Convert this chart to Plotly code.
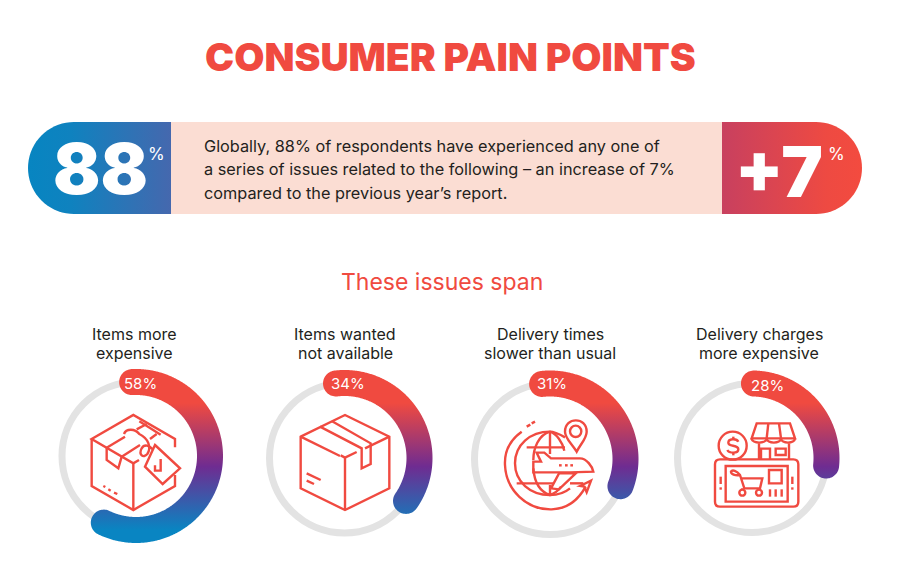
import math
import re
import plotly.graph_objects as go

# values
title = "CONSUMER PAIN POINTS"
subtitle = "These issues span"
stat_left = "88"
stat_right = "+7"
blurb = [
    "Globally, 88% of respondents have experienced any one of",
    "a series of issues related to the following – an increase of 7%",
    "compared to the previous year’s report.",
]
issues = [
    ["Items more", "expensive"],
    ["Items wanted", "not available"],
    ["Delivery times", "slower than usual"],
    ["Delivery charges", "more expensive"],
]
shares = [58, 34, 31, 28]

RED = "#f04a40"
FONT = "Inter"

# ring layout, pixels of the 900x580 page
ring_cx = [136, 344.5, 550, 752]
ring_cy = [456, 458, 459, 458]
ring_r = [74, 75, 75.5, 74.5]
ring_start = [-3, -6.5, -6, 1.5]
ring_trim = [-3, 2.5, -0.5, -5]
label_x = [134, 345, 550, 759]
pct_x = [140, 348, 552, 767]
icon_origin = [(40, 360), (250, 360), (455, 360), (655, 360)]
ARC_W = 26
PAGE_MARGIN = 8  # the page body keeps its default margin


def point(cx, cy, r, deg):
    a = math.radians(deg)
    return cx + r * math.sin(a), cy - r * math.cos(a)


def arc_outline(cx, cy, r, w, a0, a1):
    pts = []
    n = int(a1 - a0) * 2
    for i in range(n + 1):
        pts.append(point(cx, cy, r + w / 2, a0 + (a1 - a0) * i / n))
    ex, ey = point(cx, cy, r, a1)
    for i in range(37):
        pts.append(point(ex, ey, w / 2, a1 + i * 5))
    for i in range(n + 1):
        pts.append(point(cx, cy, r - w / 2, a1 - (a1 - a0) * i / n))
    sx, sy = point(cx, cy, r, a0)
    for i in range(37):
        pts.append(point(sx, sy, w / 2, a0 + 180 + i * 5))
    pts.append(pts[0])
    return [p[0] for p in pts], [p[1] for p in pts]


def pill_end(x_flat, side, top=122, bottom=214):
    # one rounded end of the band, side -1 is left
    r = (bottom - top) / 2
    cy = (top + bottom) / 2
    xs, ys = [], []
    for i in range(37):
        a = math.radians(i * 5)
        xs.append(x_flat + side * r * math.sin(a))
        ys.append(cy - r * math.cos(a))
    return xs, ys


fig = go.Figure()

# band
lx, ly = pill_end(74, -1)
fig.add_trace(go.Scatter(
    x=[171, 171] + lx[::-1] + [171],
    y=[214, 214] + ly[::-1] + [122],
    fill="toself", mode="none", hoverinfo="skip",
    fillgradient=dict(type="horizontal", start=28, stop=171,
                      colorscale=[[0, "#0785c1"], [0.3, "#0f82bf"], [1, "#4568ae"]]),
))
rx, ry = pill_end(816, 1)
fig.add_trace(go.Scatter(
    x=[722] + rx + [722, 722],
    y=[122] + ry + [214, 122],
    fill="toself", mode="none", hoverinfo="skip",
    fillgradient=dict(type="horizontal", start=722, stop=862,
                      colorscale=[[0, "#c8405f"], [0.75, "#ee4a42"], [1, "#f34b3f"]]),
))

shapes = [dict(type="rect", x0=171, x1=722, y0=122, y1=214,
               fillcolor="#fbddd3", line_width=0, layer="below")]

# arcs, the gradient runs down the page
for i, share in enumerate(shares):
    cx, cy, r = ring_cx[i], ring_cy[i], ring_r[i]
    shapes.append(dict(type="circle", x0=cx - r, x1=cx + r, y0=cy - r, y1=cy + r,
                       line=dict(color="#e3e3e3", width=7), layer="below"))
    ax, ay = arc_outline(cx, cy, r, ARC_W, ring_start[i], share * 3.6 + ring_trim[i])
    fig.add_trace(go.Scatter(
        x=ax, y=ay, fill="toself", mode="none", hoverinfo="skip",
        fillgradient=dict(type="vertical", start=403, stop=530,
                          colorscale=[[0, RED], [0.5, "#6f2c91"], [1, "#0985c2"]]),
    ))


def ellipse(cx, cy, rx, ry):
    k = 0.5523
    return (f"M{cx-rx},{cy} C{cx-rx},{cy-k*ry} {cx-k*rx},{cy-ry} {cx},{cy-ry} "
            f"C{cx+k*rx},{cy-ry} {cx+rx},{cy-k*ry} {cx+rx},{cy} "
            f"C{cx+rx},{cy+k*ry} {cx+k*rx},{cy+ry} {cx},{cy+ry} "
            f"C{cx-k*rx},{cy+ry} {cx-rx},{cy+k*ry} {cx-rx},{cy} Z")


# icons, sketched in 3x crop coordinates
icon_paths = [
    [
        "M297,300 L280,310 L155,237 L280,165 L405,237 L405,262",
        "M155,237 L155,378 L280,450 L405,378 L405,345",
        "M280,310 L280,450",
        "M200,263 L255,230", "M290,208 L320,192", "M245,290 L300,255", "M330,237 L350,222",
        "M298,184 L362,224",
        "M200,263 L200,300 L235,325 L245,290",
        "M345,255 L420,325 L368,372 L315,320 Z",
        "M362,297 L362,332 L345,332 L345,316",
        "M252,222 C258,205 285,205 298,222 C325,235 335,262 322,282 C310,296 295,285 305,265 C312,252 328,255 338,268",
        "M190,378 L196,381", "M205,388 L212,392", "M222,398 L232,402",
    ],
    [
        "M152,230 L285,165 L418,230 L418,385 L285,450 L152,385 Z",
        "M285,293 L285,450",
        "M152,230 L270,288", "M272,286 L285,293 L320,276", "M345,265 L418,230",
        "M210,200 L335,265 L335,325 L362,312 L362,250 L245,183",
        "M170,340 L212,360", "M170,362 L192,372",
    ],
    [
        "M200,215 C165,240 148,275 150,315 C153,390 215,450 290,448 C335,447 370,420 392,380",
        "M375,378 L408,362 L395,397 L388,380 Z",
        "M215,200 L226,194", "M230,190 L240,185",
        "M330,232 C305,218 290,215 285,215 C225,215 180,255 180,310 C180,365 225,405 285,405 C300,405 325,402 345,385",
        "M285,215 C250,225 235,265 235,300", "M235,325 C238,365 255,395 285,405 C300,400 310,392 318,380",
        "M285,215 C305,222 322,245 328,272",
        "M285,215 L285,282", "M285,375 L285,405",
        "M215,262 L330,262", "M185,370 L295,370", "M345,370 L385,370",
        "M235,305 L258,305 L245,278 L268,278 L288,295 L375,295 C395,295 412,320 415,335 L345,337 L235,337 Z",
        "M312,340 L362,340 L312,388 L288,385 Z",
        "M312,316 L320,316", "M330,316 L338,316", "M346,316 L354,316",
        "M365,275 C350,250 330,235 330,215 C330,170 395,170 395,215 C395,235 378,250 365,275 Z",
        ellipse(362, 214, 17, 17),
    ],
    [
        "M195,298 L415,298 C425,298 430,303 430,313 L430,425 C430,435 425,440 415,440 "
        "L195,440 C185,440 180,435 180,425 L180,313 C180,303 185,298 195,298 Z",
        "M212,318 L398,318 L398,425 L212,425 Z",
        "M197,350 L197,372", "M197,382 L197,389", "M412,350 L412,372", "M412,382 L412,389",
        ellipse(233, 257, 42, 42),
        "M250,245 C245,235 220,235 220,248 C220,262 250,252 250,268 C250,282 222,280 217,270",
        "M235,230 L235,238", "M235,278 L235,286",
        "M305,190 L405,190 L420,235 L290,235 Z",
        "M290,235 C290,252 335,252 335,235 C335,252 378,252 378,235 C378,252 420,252 420,235",
        "M340,190 L335,235", "M372,190 L378,235",
        "M312,250 L312,298", "M402,250 L402,298",
        "M318,298 L318,266 L345,266 L345,298", "M362,266 L392,266 L392,285 L362,285 Z",
        "M255,345 C240,348 228,342 228,335 C232,328 245,332 255,345 L268,385 L315,385 L322,355 L260,355",
        ellipse(262, 398, 9, 9), ellipse(312, 398, 9, 9), "M262,385 L262,389", "M312,385 L312,389",
        "M342,330 L380,330 L380,370 L342,370 Z",
        "M345,388 L345,410", "M362,388 L362,410", "M380,388 L380,410",
    ],
]


def place(path, ox, oy):
    def move(m):
        return f"{float(m.group(1)) / 3 + ox:.2f},{float(m.group(2)) / 3 + oy:.2f}"
    return re.sub(r"(-?[\d.]+),(-?[\d.]+)", move, path)


for paths, (ox, oy) in zip(icon_paths, icon_origin):
    for p in paths:
        shapes.append(dict(type="path", path=place(p, ox, oy),
                           line=dict(color=RED, width=2.4)))


def text(x, y, s, size, color, weight=400, anchor="center"):
    fig.add_annotation(x=x, y=y, text=s, showarrow=False, xanchor=anchor, yanchor="middle",
                       align="center", font=dict(family=FONT, size=size, color=color, weight=weight))


text(450, 56, title, 39, RED, 900)
text(100, 168, stat_left, 70, "white", 900)
text(156, 154, "%", 17, "white", 400)
text(779, 171, stat_right, 70, "white", 900)
text(836, 154, "%", 17, "white", 400)
for i, line in enumerate(blurb):
    text(202, 146 + i * 23.3, line, 16.3, "#231f20", 400, "left")
text(442, 282, subtitle, 23, RED, 400)
for i, label in enumerate(issues):
    text(label_x[i], 334, label[0], 16, "#231f20", 400)
    text(label_x[i], 353, label[1], 16, "#231f20", 400)
for i, share in enumerate(shares):
    text(pct_x[i], 383 + (2 if i == 3 else 0), f"{share}%", 15, "white", 400)

fig.update_layout(
    width=900 - PAGE_MARGIN, height=580 - PAGE_MARGIN, margin=dict(l=0, r=0, t=0, b=0),
    paper_bgcolor="white", plot_bgcolor="white", showlegend=False,
    xaxis=dict(range=[PAGE_MARGIN, 900], visible=False),
    yaxis=dict(range=[580, PAGE_MARGIN], visible=False),
    shapes=shapes,
)

fig.write_html("out.html")
